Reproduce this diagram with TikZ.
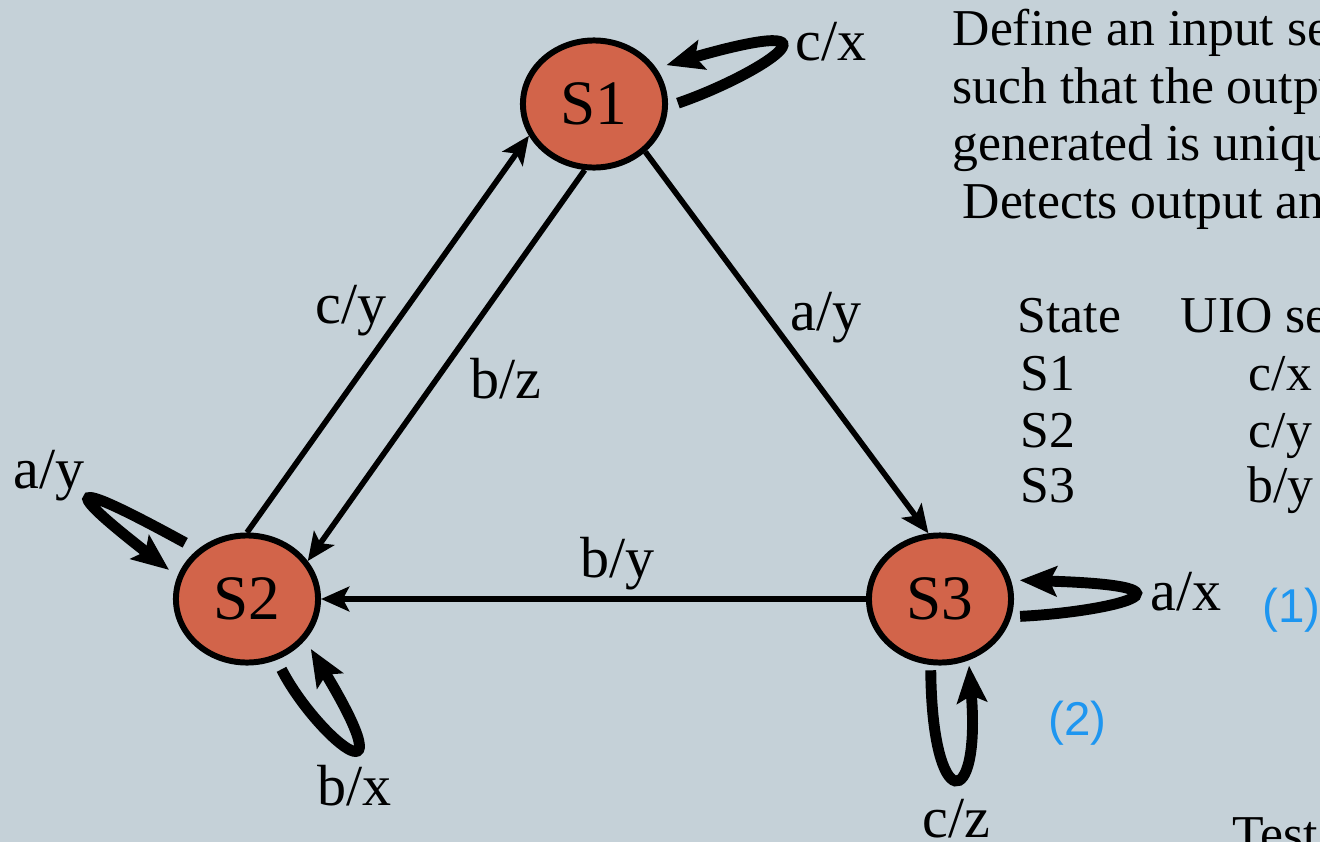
\documentclass[tikz,border=0pt]{standalone}
\usepackage{fontspec}
\setmainfont{Liberation Serif}
\newfontfamily\notefont{Liberation Sans}
\usetikzlibrary{shapes.geometric,arrows.meta}

\definecolor{slidebg}{RGB}{197,209,216}
\definecolor{statefill}{RGB}{210,100,74}
\definecolor{noteblue}{RGB}{30,150,240}

\tikzset{
  state/.style={ellipse, draw, line width=1.7pt, fill=statefill, inner sep=0pt,
    minimum width=1.42cm, minimum height=1.27cm, font=\fontsize{18}{20}\selectfont},
  edge/.style={line width=1.6pt, -{Stealth[length=8pt,width=7pt,inset=1.8pt]}},
  selfloop/.style={line width=3.1pt, -{Stealth[length=10.5pt,width=8.5pt,inset=2pt]}},
  trans/.style={font=\fontsize{16.5}{18}\selectfont, inner sep=0pt, anchor=base west},
  slidetext/.style={font=\fontsize{14.7}{16}\selectfont, inner sep=0pt, anchor=base west},
  note/.style={font=\notefont\fontsize{13.5}{15}\selectfont, text=noteblue, inner sep=0pt, anchor=base west}
}

\begin{document}
\begin{tikzpicture}[x=0.01cm,y=-0.01cm]
  \useasboundingbox (0,0) rectangle (1320,842);
  \clip (0,0) rectangle (1320,842);
  \fill[slidebg] (0,0) rectangle (1320,842);

  % states
  \node[state] (S1) at (594,104) {S1};
  \node[state] (S2) at (247,599) {S2};
  \node[state] (S3) at (940,599) {S3};

  % transitions between states
  \draw[edge] (S2.90) -- (S1.206);
  \draw[edge] (S1.262) -- (S2.32);
  \draw[edge] (S1.317) -- (S3.100);
  \draw[edge] (S3.west) -- (S2.east);

  % self loops
  \draw[selfloop, shorten <=3pt, shorten >=3pt] (S1.-2) .. controls (760,75) and (859,10) .. (S1.30);
  \draw[selfloop, shorten <=4pt, shorten >=3pt] (S2.135) .. controls (98,495) and (37,467) .. (S2.162);
  \draw[selfloop, shorten <=3pt, shorten >=3pt] (S2.-64) .. controls (315,735) and (410,814) .. (S2.-35);
  \draw[selfloop, shorten <=2.5pt, shorten >=2.5pt] (S3.-14) .. controls (1110,612) and (1216,586) .. (S3.15);
  \draw[selfloop, shorten <=1.5pt, shorten >=1.5pt] (S3.-98) .. controls (932,815) and (981,813) .. (S3.-65);

  % transition labels
  \node[trans] (l1) at (795,60) {c/x};
  \node[trans] (l2) at (315,323) {c/y};
  \node[trans] (l3) at (470,398) {b/z};
  \node[trans] (l4) at (790,330) {a/y};
  \node[trans] (l5) at (580,577) {b/y};
  \node[trans] (l6) at (13,488) {a/y};
  \node[trans] (l7) at (317,805) {b/x};
  \node[trans] (l8) at (1150,610) {a/x};
  \node[trans] (l9) at (922,837) {c/z};

  % numbered notes
  \node[note] (n1) at (1262,622) {(1)};
  \node[note] (n2) at (1048,735) {(2)};

  % slide text
  \node[slidetext] (t1) at (952,45) {Define an input sequence};
  \node[slidetext] (t2) at (952,103) {such that the output};
  \node[slidetext] (t3) at (952,160) {generated is unique};
  \node[slidetext] (t4) at (962,218) {Detects output and};

  % UIO table
  \node[slidetext] (h1) at (1017,332) {State};
  \node[slidetext] (h2) at (1180,332) {UIO sequence};
  \node[slidetext] (r1) at (1020,390) {S1};
  \node[slidetext] (r2) at (1020,447) {S2};
  \node[slidetext] (r3) at (1020,502) {S3};
  \node[slidetext] (u1) at (1248,390) {c/x};
  \node[slidetext] (u2) at (1248,447) {c/y};
  \node[slidetext] (u3) at (1247,502) {b/y};

  \node[slidetext] (tc) at (1232,851) {Test};
\end{tikzpicture}
\end{document}
